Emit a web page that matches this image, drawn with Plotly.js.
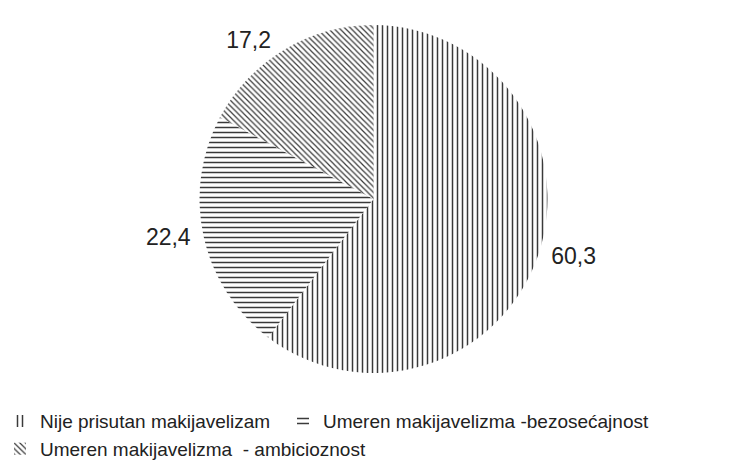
<!DOCTYPE html>
<html>
<head>
<meta charset="utf-8">
<script src="https://cdn.plot.ly/plotly-3.0.1.min.js"></script>
<style>html,body{margin:0;padding:0;background:#fff;}#chart{width:729px;height:472px;}</style>
</head>
<body>
<div id="chart"></div>
<script>
const categories = ["Nije prisutan makijavelizam", "Umeren makijavelizma -bezosećajnost", "Umeren makijavelizma  - ambicioznost"];
const values = [60.3, 22.4, 17.2];
const patternShapes = ["|", "-", "\\"];
const patternSizes = [5, 5, 4];

const FONT = '"Liberation Sans Narrow", "Arial Narrow", "Liberation Sans", Arial, sans-serif';

const trace = {
  type: 'pie',
  labels: categories,
  values: values,
  sort: false,
  direction: 'clockwise',
  rotation: 0,
  textinfo: 'value',
  texttemplate: '\u00a0%{value:.1f}\u00a0',
  textposition: 'outside',
  outsidetextfont: {family: FONT, size: 23, color: '#222'},
  hoverinfo: 'skip',
  marker: {
    colors: ['#ffffff', '#ffffff', '#ffffff'],
    line: {width: 0, color: '#ffffff'},
    pattern: {
      shape: patternShapes,
      size: patternSizes,
      solidity: 0.3,
      fgcolor: '#3a3a3a',
      bgcolor: '#ffffff',
      fillmode: 'replace'
    }
  },
  domain: {x: [0.2737, 0.751], y: [0.2097, 0.947]},
  automargin: false
};

const layout = {
  width: 729,
  height: 472,
  margin: {l: 0, r: 0, t: 0, b: 0},
  paper_bgcolor: '#ffffff',
  separators: ',.',
  showlegend: true,
  legend: {
    orientation: 'h',
    x: 0,
    xanchor: 'left',
    y: 0.148,
    yanchor: 'top',
    font: {family: FONT, size: 19, color: '#222'},
    entrywidth: 238,
    entrywidthmode: 'pixels',
    itemwidth: 30,
    traceorder: 'normal'
  }
};

Plotly.newPlot('chart', [trace], layout, {displayModeBar: false, staticPlot: true}).then(function (gd) {
  // let the long second legend entry run past the legend box instead of being cut
  gd.querySelectorAll('.legend .scrollbox').forEach(function (el) {
    el.removeAttribute('clip-path');
  });
});
</script>
</body>
</html>
